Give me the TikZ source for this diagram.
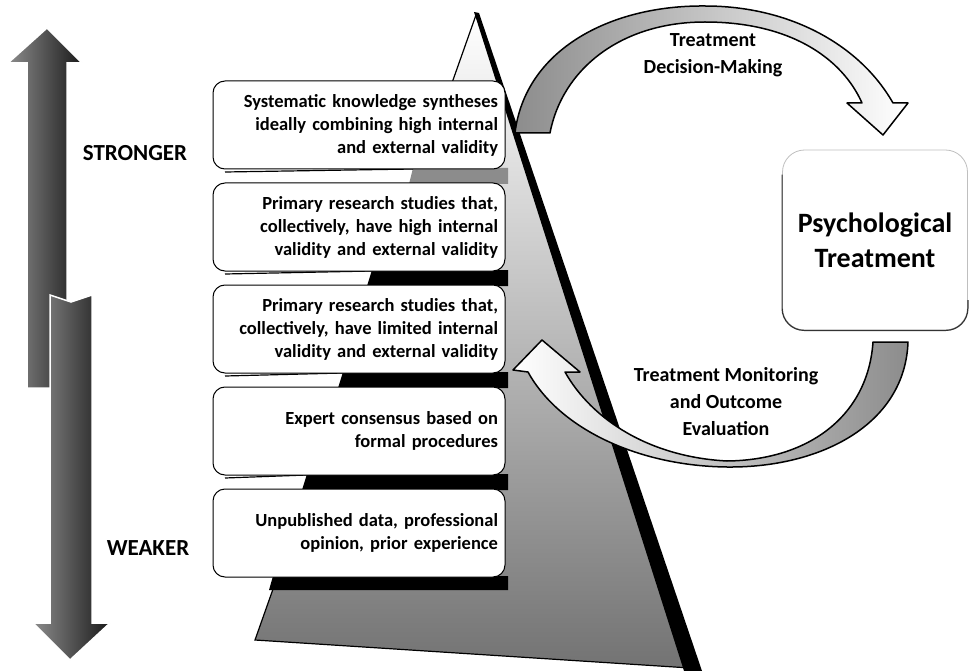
\documentclass[tikz,border=0pt]{standalone}
\usepackage{fontspec}
\setmainfont{Carlito}
\begin{document}
\begin{tikzpicture}[x=1pt,y=-1pt,
        levelbox/.style={draw=black, line width=1pt, fill=white, rounded corners=12pt,
            minimum width=292pt, minimum height=88pt, inner xsep=7pt, text width=278pt,
            align=right, font=\fontsize{18.5}{23}\selectfont\bfseries},
        scalelabel/.style={font=\fontsize{23}{27}\selectfont\bfseries},
        steplabel/.style={align=center, font=\fontsize{20}{27}\selectfont\bfseries},
        bigarrow/.style={draw=white, line width=1.5pt, left color=black!45, right color=black!90},
        band/.style={draw=black, line width=1.5pt, line join=round}]
        \useasboundingbox (0,0) rectangle (969,671);

        % 1. STRONGER / WEAKER arrows
        \shadedraw[bigarrow] (27,388) -- (27,63) -- (8,63) -- (47,28) -- (82,63) -- (67,63) -- (67,388) -- cycle;
        \shadedraw[bigarrow] (50,295) -- (71,302) -- (92,295) -- (92,623) -- (110,623) -- (70,660) -- (33,623) -- (50,623) -- cycle;
        \node[scalelabel] (strong) at (135,153) {STRONGER};
        \node[scalelabel] (weak) at (148,548) {WEAKER};

        % 2. pyramid
        \shade[top color=white, middle color=white, bottom color=black!55] (476,15) -- (255,640) -- (690,668) -- cycle;
        \draw[line width=1.2pt] (476,15) -- (255,640) -- (690,668);
        \fill (474,12) -- (479,13) -- (702,671) -- (684,671) -- cycle;

        % 3. layer edges between the boxes
        \fill[black!45] (413,168) -- (508,168) -- (508,184) -- (409,184) -- cycle;
        \draw[line width=1.2pt] (225,172) -- (413,169);
        \fill (372,270) -- (508,270) -- (508,286) -- (367,286) -- cycle;
        \draw[line width=1.2pt] (225,274) -- (372,271);
        \fill (343,372) -- (508,372) -- (508,388) -- (338,388) -- cycle;
        \draw[line width=1.2pt] (225,376) -- (343,373);
        \fill (307,474) -- (508,474) -- (508,490) -- (302,490) -- cycle;
        \draw[line width=1.2pt] (225,478) -- (307,475);
        \fill (273,576) -- (508,576) -- (508,590) -- (269,590) -- cycle;

        % 4. evidence levels
        \node[levelbox] (lvl1) at (359,125) {Systematic knowledge syntheses\\ideally combining high internal\\and external validity};
        \node[levelbox] (lvl2) at (359,227) {Primary research studies that,\\collectively, have high internal\\validity and external validity};
        \node[levelbox] (lvl3) at (359,329) {Primary research studies that,\\collectively, have limited internal\\validity and external validity};
        \node[levelbox] (lvl4) at (359,431) {Expert consensus based on\\formal procedures};
        \node[levelbox] (lvl5) at (359,533) {Unpublished data, professional\\opinion, prior experience};

        % 5. treatment cycle
        \shadedraw[band, left color=black!45, right color=white] (515,133) .. controls (525,50) and (610,5) .. (705,6)
            .. controls (790,6) and (860,45) .. (893,103) -- (908,103) -- (883,135) -- (847,103) -- (862,103)
            .. controls (842,58) and (790,22) .. (705,22) .. controls (620,22) and (562,70) .. (550,133) -- cycle;
        \shadedraw[band, left color=white, right color=black!45] (908,342) .. controls (905,425) and (820,468) .. (727,467)
            .. controls (640,466) and (560,430) .. (528,372) -- (513,370) -- (542,340) -- (580,372) -- (565,372)
            .. controls (592,420) and (650,457) .. (727,461) .. controls (810,460) and (868,415) .. (873,342) -- cycle;
        \node[draw=black!25, line width=0.8pt, fill=white, rounded corners=22pt, minimum width=185pt, minimum height=180pt,
            align=center, font=\fontsize{28}{35}\selectfont\bfseries] (treat) at (875,240) {Psychological\\Treatment};
        \draw[black!80, line width=1.2pt, rounded corners=22pt] ([yshift=-25pt]treat.north west) -- (treat.south west)
            -- (treat.south east) -- ([yshift=-60pt]treat.east);
        \node[steplabel] (decide) at (713,55) {Treatment\\Decision-Making};
        \node[steplabel] (monitor) at (726,402) {Treatment Monitoring\\and Outcome\\Evaluation};
    \end{tikzpicture}
\end{document}
